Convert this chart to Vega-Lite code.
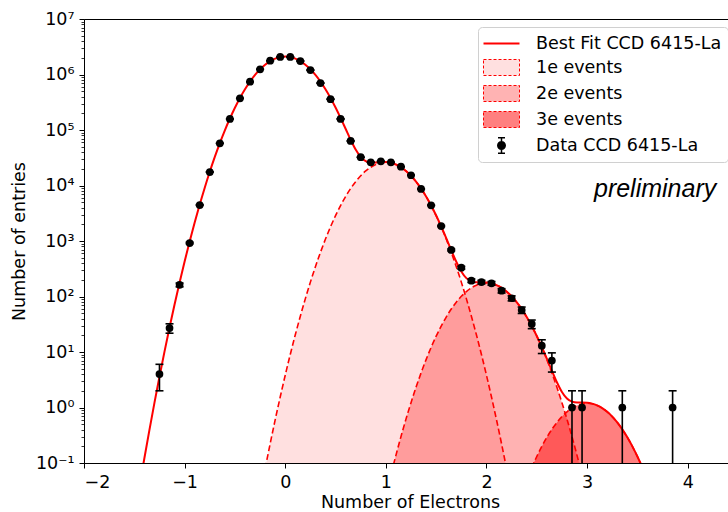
{
  "$schema": "https://vega.github.io/schema/vega-lite/v6.json",
  "width": 652,
  "height": 444,
  "autosize": {"type": "none"},
  "padding": {"left": 84, "top": 19, "right": 0, "bottom": 49},
  "background": "white",
  "config": {
    "font": "DejaVu Sans",
    "view": {"stroke": "black", "strokeWidth": 1},
    "axis": {
      "labelFont": "DejaVu Sans", "titleFont": "DejaVu Sans",
      "labelFontSize": 17.5, "titleFontSize": 17.5, "titleFontWeight": "normal",
      "labelColor": "black", "titleColor": "black",
      "domainColor": "black", "tickColor": "black", "grid": false,
      "tickSize": 5, "domainWidth": 1, "tickWidth": 1, "labelPadding": 5
    },
    "legend": {
      "orient": "top-right", "offset": 8,
      "labelFont": "DejaVu Sans", "labelFontSize": 17.5, "labelColor": "black",
      "symbolSize": 400, "symbolStrokeWidth": 1, "symbolDash": [3, 2],
      "symbolOffset": 7, "labelOffset": 24, "rowPadding": 5, "padding": 6,
      "strokeColor": "#d0d0d0", "fillColor": "white", "cornerRadius": 4,
      "symbolOpacity": 1, "labelLimit": 400
    }
  },
  "datasets": {
    "points": [
      {"x": -1.25, "n": 4, "lo": 2, "hi": 6},
      {"x": -1.15, "n": 27, "lo": 21.8, "hi": 32.2},
      {"x": -1.05, "n": 162, "lo": 149.3, "hi": 174.7},
      {"x": -0.95, "n": 920, "lo": 889.7, "hi": 950.3},
      {"x": -0.85, "n": 4450, "lo": 4383.3, "hi": 4516.7},
      {"x": -0.75, "n": 17500, "lo": 17367.7, "hi": 17632.3},
      {"x": -0.65, "n": 57500, "lo": 57260, "hi": 57740},
      {"x": -0.55, "n": 158000, "lo": 157602, "hi": 158398},
      {"x": -0.45, "n": 372000, "lo": 371390, "hi": 372610},
      {"x": -0.35, "n": 741000, "lo": 740139, "hi": 741861},
      {"x": -0.25, "n": 1240000, "lo": 1238886, "hi": 1241114},
      {"x": -0.15, "n": 1770000, "lo": 1768670, "hi": 1771330},
      {"x": -0.05, "n": 2070000, "lo": 2068561, "hi": 2071439},
      {"x": 0.05, "n": 2070000, "lo": 2068561, "hi": 2071439},
      {"x": 0.15, "n": 1750000, "lo": 1748677, "hi": 1751323},
      {"x": 0.25, "n": 1200000, "lo": 1198905, "hi": 1201095},
      {"x": 0.35, "n": 700000, "lo": 699163, "hi": 700837},
      {"x": 0.45, "n": 360000, "lo": 359400, "hi": 360600},
      {"x": 0.55, "n": 158000, "lo": 157602, "hi": 158398},
      {"x": 0.65, "n": 63400, "lo": 63148, "hi": 63652},
      {"x": 0.75, "n": 32300, "lo": 32120, "hi": 32480},
      {"x": 0.85, "n": 26200, "lo": 26038, "hi": 26362},
      {"x": 0.95, "n": 27300, "lo": 27135, "hi": 27465},
      {"x": 1.05, "n": 26200, "lo": 26038, "hi": 26362},
      {"x": 1.15, "n": 21800, "lo": 21652, "hi": 21948},
      {"x": 1.25, "n": 15300, "lo": 15176, "hi": 15424},
      {"x": 1.35, "n": 8650, "lo": 8557, "hi": 8743},
      {"x": 1.45, "n": 4400, "lo": 4333.7, "hi": 4466.3},
      {"x": 1.55, "n": 1860, "lo": 1816.9, "hi": 1903.1},
      {"x": 1.65, "n": 690, "lo": 663.7, "hi": 716.3},
      {"x": 1.75, "n": 330, "lo": 311.8, "hi": 348.2},
      {"x": 1.85, "n": 193, "lo": 179.1, "hi": 206.9},
      {"x": 1.95, "n": 182, "lo": 168.5, "hi": 195.5},
      {"x": 2.05, "n": 173, "lo": 159.8, "hi": 186.2},
      {"x": 2.15, "n": 127, "lo": 115.7, "hi": 138.3},
      {"x": 2.25, "n": 93, "lo": 83.4, "hi": 102.6},
      {"x": 2.35, "n": 57, "lo": 49.45, "hi": 64.55},
      {"x": 2.45, "n": 32, "lo": 26.34, "hi": 37.66},
      {"x": 2.55, "n": 13, "lo": 9.39, "hi": 16.61},
      {"x": 2.65, "n": 7, "lo": 4.35, "hi": 9.65},
      {"x": 2.85, "n": 1, "lo": 0.001, "hi": 2},
      {"x": 2.95, "n": 1, "lo": 0.001, "hi": 2},
      {"x": 3.35, "n": 1, "lo": 0.001, "hi": 2},
      {"x": 3.85, "n": 1, "lo": 0.001, "hi": 2}
    ],
    "fit": [
      {"x": -1.45, "y": 0.0363}, {"x": -1.4, "y": 0.122}, {"x": -1.35, "y": 0.392}, {"x": -1.3, "y": 1.21},
      {"x": -1.25, "y": 3.58}, {"x": -1.2, "y": 10.15}, {"x": -1.15, "y": 27.6}, {"x": -1.1, "y": 71.8},
      {"x": -1.05, "y": 179}, {"x": -1.0, "y": 428}, {"x": -0.95, "y": 981}, {"x": -0.9, "y": 2152},
      {"x": -0.85, "y": 4530}, {"x": -0.8, "y": 9140}, {"x": -0.75, "y": 17670}, {"x": -0.7, "y": 32710},
      {"x": -0.65, "y": 58080}, {"x": -0.6, "y": 98830}, {"x": -0.55, "y": 161100}, {"x": -0.5, "y": 251800},
      {"x": -0.45, "y": 377000}, {"x": -0.4, "y": 541300}, {"x": -0.35, "y": 744600}, {"x": -0.3, "y": 981600},
      {"x": -0.25, "y": 1240200}, {"x": -0.2, "y": 1501600}, {"x": -0.15, "y": 1742600}, {"x": -0.1, "y": 1938000},
      {"x": -0.05, "y": 2065600}, {"x": 0.0, "y": 2110000}, {"x": 0.05, "y": 2065610}, {"x": 0.1, "y": 1938020},
      {"x": 0.15, "y": 1742640}, {"x": 0.2, "y": 1501690}, {"x": 0.25, "y": 1240380}, {"x": 0.3, "y": 981940},
      {"x": 0.35, "y": 745220}, {"x": 0.4, "y": 542380}, {"x": 0.45, "y": 378800}, {"x": 0.5, "y": 254660},
      {"x": 0.55, "y": 165450}, {"x": 0.6, "y": 105160}, {"x": 0.65, "y": 66900}, {"x": 0.7, "y": 44460},
      {"x": 0.75, "y": 32650}, {"x": 0.8, "y": 27410}, {"x": 0.85, "y": 25850}, {"x": 0.9, "y": 25960},
      {"x": 0.95, "y": 26410}, {"x": 1.0, "y": 26430}, {"x": 1.05, "y": 25610}, {"x": 1.1, "y": 23880},
      {"x": 1.15, "y": 21345}, {"x": 1.2, "y": 18276}, {"x": 1.25, "y": 14981}, {"x": 1.3, "y": 11752},
      {"x": 1.35, "y": 8823}, {"x": 1.4, "y": 6341}, {"x": 1.45, "y": 4365}, {"x": 1.5, "y": 2881},
      {"x": 1.55, "y": 1830}, {"x": 1.6, "y": 1127}, {"x": 1.65, "y": 683}, {"x": 1.7, "y": 423},
      {"x": 1.75, "y": 282.4}, {"x": 1.8, "y": 214.5}, {"x": 1.85, "y": 187.7}, {"x": 1.9, "y": 180.6},
      {"x": 1.95, "y": 180.2}, {"x": 2.0, "y": 178.8}, {"x": 2.05, "y": 172.7}, {"x": 2.1, "y": 160.8},
      {"x": 2.15, "y": 143.7}, {"x": 2.2, "y": 123.0}, {"x": 2.25, "y": 100.8}, {"x": 2.3, "y": 79.1},
      {"x": 2.35, "y": 59.43}, {"x": 2.4, "y": 42.65}, {"x": 2.45, "y": 29.38}, {"x": 2.5, "y": 19.39},
      {"x": 2.55, "y": 12.33}, {"x": 2.6, "y": 7.59}, {"x": 2.65, "y": 4.6}, {"x": 2.7, "y": 2.854},
      {"x": 2.75, "y": 1.908}, {"x": 2.8, "y": 1.453}, {"x": 2.85, "y": 1.274}, {"x": 2.9, "y": 1.227},
      {"x": 2.95, "y": 1.225}, {"x": 3.0, "y": 1.216}, {"x": 3.05, "y": 1.174}, {"x": 3.1, "y": 1.0895},
      {"x": 3.15, "y": 0.9757}, {"x": 3.2, "y": 0.836}, {"x": 3.25, "y": 0.6855}, {"x": 3.3, "y": 0.5377},
      {"x": 3.35, "y": 0.4036}, {"x": 3.4, "y": 0.2899}, {"x": 3.45, "y": 0.1992}, {"x": 3.5, "y": 0.131},
      {"x": 3.55, "y": 0.0825}, {"x": 3.6, "y": 0.0496}, {"x": 3.65, "y": 0.0286}
    ],
    "e1": [
      {"x": -0.3, "y": 0.00866}, {"x": -0.25, "y": 0.0266}, {"x": -0.2, "y": 0.0786}, {"x": -0.15, "y": 0.2215},
      {"x": -0.1, "y": 0.598}, {"x": -0.05, "y": 1.544}, {"x": 0.0, "y": 3.82}, {"x": 0.05, "y": 9.03},
      {"x": 0.1, "y": 20.4}, {"x": 0.15, "y": 44.2}, {"x": 0.2, "y": 91.6}, {"x": 0.25, "y": 181.6},
      {"x": 0.3, "y": 344}, {"x": 0.35, "y": 624}, {"x": 0.4, "y": 1084}, {"x": 0.45, "y": 1801},
      {"x": 0.5, "y": 2862}, {"x": 0.55, "y": 4353}, {"x": 0.6, "y": 6334}, {"x": 0.65, "y": 8818},
      {"x": 0.7, "y": 11749}, {"x": 0.75, "y": 14976}, {"x": 0.8, "y": 18266}, {"x": 0.85, "y": 21317},
      {"x": 0.9, "y": 23804}, {"x": 0.95, "y": 25432}, {"x": 1.0, "y": 26000}, {"x": 1.05, "y": 25432},
      {"x": 1.1, "y": 23804}, {"x": 1.15, "y": 21317}, {"x": 1.2, "y": 18266}, {"x": 1.25, "y": 14976},
      {"x": 1.3, "y": 11749}, {"x": 1.35, "y": 8818}, {"x": 1.4, "y": 6334}, {"x": 1.45, "y": 4353},
      {"x": 1.5, "y": 2862}, {"x": 1.55, "y": 1801}, {"x": 1.6, "y": 1084}, {"x": 1.65, "y": 624},
      {"x": 1.7, "y": 344}, {"x": 1.75, "y": 181.6}, {"x": 1.8, "y": 91.6}, {"x": 1.85, "y": 44.2},
      {"x": 1.9, "y": 20.4}, {"x": 1.95, "y": 9.03}, {"x": 2.0, "y": 3.82}, {"x": 2.05, "y": 1.544},
      {"x": 2.1, "y": 0.598}, {"x": 2.15, "y": 0.2215}, {"x": 2.2, "y": 0.0786}, {"x": 2.25, "y": 0.0266},
      {"x": 2.3, "y": 0.00866}
    ],
    "e2": [
      {"x": 0.95, "y": 0.0104}, {"x": 1.0, "y": 0.0257}, {"x": 1.05, "y": 0.0608}, {"x": 1.1, "y": 0.1374},
      {"x": 1.15, "y": 0.298}, {"x": 1.2, "y": 0.617}, {"x": 1.25, "y": 1.222}, {"x": 1.3, "y": 2.316},
      {"x": 1.35, "y": 4.2}, {"x": 1.4, "y": 7.3}, {"x": 1.45, "y": 12.13}, {"x": 1.5, "y": 19.26},
      {"x": 1.55, "y": 29.3}, {"x": 1.6, "y": 42.6}, {"x": 1.65, "y": 59.4}, {"x": 1.7, "y": 79.1},
      {"x": 1.75, "y": 100.8}, {"x": 1.8, "y": 122.9}, {"x": 1.85, "y": 143.5}, {"x": 1.9, "y": 160.2},
      {"x": 1.95, "y": 171.2}, {"x": 2.0, "y": 175}, {"x": 2.05, "y": 171.2}, {"x": 2.1, "y": 160.2},
      {"x": 2.15, "y": 143.5}, {"x": 2.2, "y": 122.9}, {"x": 2.25, "y": 100.8}, {"x": 2.3, "y": 79.1},
      {"x": 2.35, "y": 59.4}, {"x": 2.4, "y": 42.6}, {"x": 2.45, "y": 29.3}, {"x": 2.5, "y": 19.26},
      {"x": 2.55, "y": 12.13}, {"x": 2.6, "y": 7.3}, {"x": 2.65, "y": 4.2}, {"x": 2.7, "y": 2.316},
      {"x": 2.75, "y": 1.222}, {"x": 2.8, "y": 0.617}, {"x": 2.85, "y": 0.298}, {"x": 2.9, "y": 0.1374},
      {"x": 2.95, "y": 0.0608}, {"x": 3.0, "y": 0.0257}, {"x": 3.05, "y": 0.0104}
    ],
    "e3": [
      {"x": 2.35, "y": 0.0286}, {"x": 2.4, "y": 0.0496}, {"x": 2.45, "y": 0.0825}, {"x": 2.5, "y": 0.131},
      {"x": 2.55, "y": 0.1992}, {"x": 2.6, "y": 0.2899}, {"x": 2.65, "y": 0.4036}, {"x": 2.7, "y": 0.5377},
      {"x": 2.75, "y": 0.6855}, {"x": 2.8, "y": 0.836}, {"x": 2.85, "y": 0.9757}, {"x": 2.9, "y": 1.0895},
      {"x": 2.95, "y": 1.164}, {"x": 3.0, "y": 1.19}, {"x": 3.05, "y": 1.164}, {"x": 3.1, "y": 1.0895},
      {"x": 3.15, "y": 0.9757}, {"x": 3.2, "y": 0.836}, {"x": 3.25, "y": 0.6855}, {"x": 3.3, "y": 0.5377},
      {"x": 3.35, "y": 0.4036}, {"x": 3.4, "y": 0.2899}, {"x": 3.45, "y": 0.1992}, {"x": 3.5, "y": 0.131},
      {"x": 3.55, "y": 0.0825}, {"x": 3.6, "y": 0.0496}, {"x": 3.65, "y": 0.0286}
    ],
    "legendrows": [
      {"series": "Best Fit CCD 6415-La"},
      {"series": "1e events"},
      {"series": "2e events"},
      {"series": "3e events"},
      {"series": "Data CCD 6415-La"}
    ],
    "note": [
      {"label": "preliminary", "x": 3.676, "y": 6210}
    ]
  },
  "layer": [
    {
      "encoding": {
        "x": {
          "field": "x", "type": "quantitative",
          "scale": {"domain": [-2, 4.48], "nice": false, "zero": false},
          "axis": {"values": [-2, -1, 0, 1, 2, 3, 4], "format": "d", "title": "Number of Electrons", "titlePadding": 3}
        },
        "y": {
          "field": "y", "type": "quantitative",
          "scale": {"type": "log", "domain": [0.1, 10000000], "nice": false},
          "axis": {
            "values": [0.1, 1, 10, 100, 1000, 10000, 100000, 1000000, 10000000],
            "labelExpr": "['10⁻¹','10⁰','10¹','10²','10³','10⁴','10⁵','10⁶','10⁷'][round(log(datum.value)/LN10)+1]",
            "title": "Number of entries", "titlePadding": 7
          }
        }
      },
      "layer": [
        {
          "data": {"name": "e1"},
          "mark": {"type": "area", "color": "#ff0000", "fillOpacity": 0.12, "interpolate": "monotone", "clip": true},
          "encoding": {"y2": {"datum": 0.1}}
        },
        {
          "data": {"name": "e2"},
          "mark": {"type": "area", "color": "#ff0000", "fillOpacity": 0.3, "interpolate": "monotone", "clip": true},
          "encoding": {"y2": {"datum": 0.1}}
        },
        {
          "data": {"name": "e3"},
          "mark": {"type": "area", "color": "#ff0000", "fillOpacity": 0.5, "interpolate": "monotone", "clip": true},
          "encoding": {"y2": {"datum": 0.1}}
        },
        {
          "data": {"name": "e1"},
          "mark": {"type": "line", "color": "#ff0000", "strokeWidth": 1.6, "strokeDash": [6, 3], "interpolate": "monotone", "clip": true},
          "encoding": {}
        },
        {
          "data": {"name": "e2"},
          "mark": {"type": "line", "color": "#ff0000", "strokeWidth": 1.6, "strokeDash": [6, 3], "interpolate": "monotone", "clip": true},
          "encoding": {}
        },
        {
          "data": {"name": "e3"},
          "mark": {"type": "line", "color": "#ff0000", "strokeWidth": 1.6, "strokeDash": [6, 3], "interpolate": "monotone", "clip": true},
          "encoding": {}
        },
        {
          "data": {"name": "fit"},
          "mark": {"type": "line", "color": "#ff0000", "strokeWidth": 2, "interpolate": "monotone", "clip": true},
          "encoding": {}
        },
        {
          "data": {"name": "points"},
          "mark": {"type": "rule", "color": "black", "strokeWidth": 1.6, "clip": true},
          "encoding": {
            "y": {"field": "lo", "type": "quantitative", "title": "Number of entries"},
            "y2": {"field": "hi"}
          }
        },
        {
          "data": {"name": "points"},
          "mark": {"type": "tick", "orient": "horizontal", "color": "black", "size": 8, "thickness": 1.6, "opacity": 1, "clip": true},
          "encoding": {"y": {"field": "hi", "type": "quantitative", "title": "Number of entries"}}
        },
        {
          "data": {"name": "points"},
          "mark": {"type": "tick", "orient": "horizontal", "color": "black", "size": 8, "thickness": 1.6, "opacity": 1, "clip": true},
          "encoding": {"y": {"field": "lo", "type": "quantitative", "title": "Number of entries"}}
        },
        {
          "data": {"name": "points"},
          "mark": {"type": "point", "filled": true, "shape": "circle", "color": "black", "size": 60, "opacity": 1, "clip": true},
          "encoding": {"y": {"field": "n", "type": "quantitative", "title": "Number of entries"}}
        },
        {
          "data": {"name": "note"},
          "mark": {"type": "text", "font": "Liberation Sans", "fontStyle": "italic", "fontSize": 25, "align": "center", "baseline": "alphabetic", "color": "black"},
          "encoding": {"text": {"field": "label"}}
        }
      ]
    },
    {
      "data": {"name": "legendrows"},
      "mark": {"type": "point", "filled": true, "size": 400, "opacity": 1},
      "encoding": {
        "x": {"field": "x", "type": "quantitative", "scale": {"domain": [-2, 4.48], "nice": false, "zero": false}},
        "y": {
          "field": "y", "type": "quantitative",
          "scale": {"type": "log", "domain": [0.1, 10000000], "nice": false},
          "axis": {
            "orient": "left", "labels": false, "domain": false, "title": null, "tickSize": 3, "tickWidth": 0.8,
            "values": [0.2, 0.3, 0.4, 0.5, 0.6, 0.7, 0.8, 0.9, 2, 3, 4, 5, 6, 7, 8, 9, 20, 30, 40, 50, 60, 70, 80, 90, 200, 300, 400, 500, 600, 700, 800, 900, 2000, 3000, 4000, 5000, 6000, 7000, 8000, 9000, 20000, 30000, 40000, 50000, 60000, 70000, 80000, 90000, 200000, 300000, 400000, 500000, 600000, 700000, 800000, 900000, 2000000, 3000000, 4000000, 5000000, 6000000, 7000000, 8000000, 9000000]
          }
        },
        "fill": {
          "field": "series", "type": "nominal",
          "scale": {"domain": ["Best Fit CCD 6415-La", "1e events", "2e events", "3e events", "Data CCD 6415-La"], "range": ["#ff0000", "#ffe0e0", "#ffb3b3", "#ff8080", "#000000"]},
          "legend": {"title": null}
        },
        "stroke": {
          "field": "series", "type": "nominal",
          "scale": {"domain": ["Best Fit CCD 6415-La", "1e events", "2e events", "3e events", "Data CCD 6415-La"], "range": ["transparent", "#ff0000", "#ff0000", "#ff0000", "transparent"]},
          "legend": {"title": null}
        },
        "shape": {
          "field": "series", "type": "nominal",
          "scale": {"domain": ["Best Fit CCD 6415-La", "1e events", "2e events", "3e events", "Data CCD 6415-La"], "range": [
            "M-1.8,-0.1L1.8,-0.1L1.8,0.1L-1.8,0.1Z",
            "M-1.8,-0.8L1.8,-0.8L1.8,0.8L-1.8,0.8Z",
            "M-1.8,-0.8L1.8,-0.8L1.8,0.8L-1.8,0.8Z",
            "M-1.8,-0.8L1.8,-0.8L1.8,0.8L-1.8,0.8Z",
            "M-0.45,0A0.45,0.45 0 1,1 0.45,0A0.45,0.45 0 1,1 -0.45,0ZM-0.075,-0.8L0.075,-0.8L0.075,0.8L-0.075,0.8ZM-0.35,-0.85L0.35,-0.85L0.35,-0.7L-0.35,-0.7ZM-0.35,0.7L0.35,0.7L0.35,0.85L-0.35,0.85Z"
          ]},
          "legend": {"title": null}
        }
      }
    }
  ],
  "resolve": {"axis": {"y": "independent"}}
}
